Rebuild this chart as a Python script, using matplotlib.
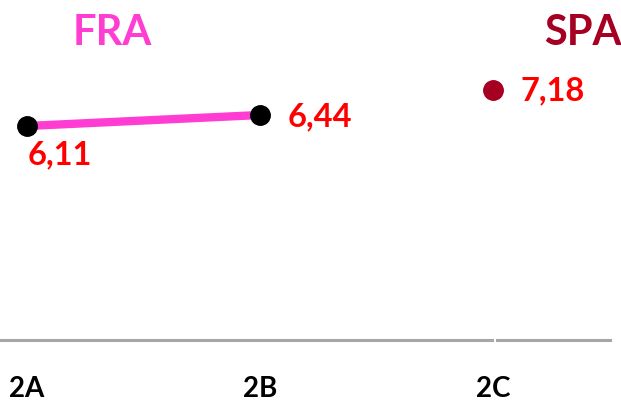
import matplotlib
matplotlib.use("Agg")
import matplotlib.pyplot as plt

plt.rcParams['font.family'] = ['Lato', 'DejaVu Sans']

categories = ["2A", "2B", "2C"]
fra_values = [6.11, 6.44]
spa_values = [7.18]
fra_labels = ["6,11", "6,44"]
spa_labels = ["7,18"]

W, H = 621, 401
fig = plt.figure(figsize=(W / 100, H / 100), dpi=100)
ax = fig.add_axes([0, (H - 340) / H, 1, 340 / H])

x_left = -27 / 233
x_right = (W - 27) / 233
ax.set_xlim(x_left, x_right)
ax.set_ylim(6.11 - (340 - 126) / 33.3, 6.11 + 126 / 33.3)

# FRA line
ax.plot([0, 1], fra_values, color="#FF3DD2", lw=6, zorder=2, solid_capstyle='butt')
ax.plot([0, 1], fra_values, 'o', color="black", ms=14, zorder=3)
# SPA point
ax.plot([2], spa_values, 'o', color="#A50021", ms=14, zorder=3)

red = "#FF0000"
ax.annotate(fra_labels[0], (0, fra_values[0]), xytext=(0.5, -21), textcoords='offset points',
            ha='left', va='center', fontsize=23.5, fontweight='bold', color=red)
ax.annotate(fra_labels[1], (1, fra_values[1]), xytext=(20, -1.5), textcoords='offset points',
            ha='left', va='center', fontsize=23.5, fontweight='bold', color=red)
ax.annotate(spa_labels[0], (2, spa_values[0]), xytext=(19.5, -0.5), textcoords='offset points',
            ha='left', va='center', fontsize=23.5, fontweight='bold', color=red)

# series titles
fig.text(112 / W, 1 - 33 / H, "FRA", ha='center', va='center', fontsize=30,
         fontweight='bold', color="#FF3DD2")
fig.text(583 / W, 1 - 33 / H, "SPA", ha='center', va='center', fontsize=30,
         fontweight='bold', color="#A50021")

# axis lines (broken)
ax.plot([0, 492 / W], [0, 0], transform=ax.transAxes, color="#A6A6A6", lw=2.2, clip_on=False)
ax.plot([497 / W, 610 / W], [0, 0], transform=ax.transAxes, color="#A6A6A6", lw=2.2, clip_on=False)

for s in ax.spines.values():
    s.set_visible(False)
ax.set_yticks([])
ax.set_xticks(range(len(categories)))
ax.set_xticklabels(categories, fontsize=20, fontweight='bold', color='black')
ax.tick_params(axis='x', length=0, pad=26)

fig.savefig("out.png", dpi=100)
